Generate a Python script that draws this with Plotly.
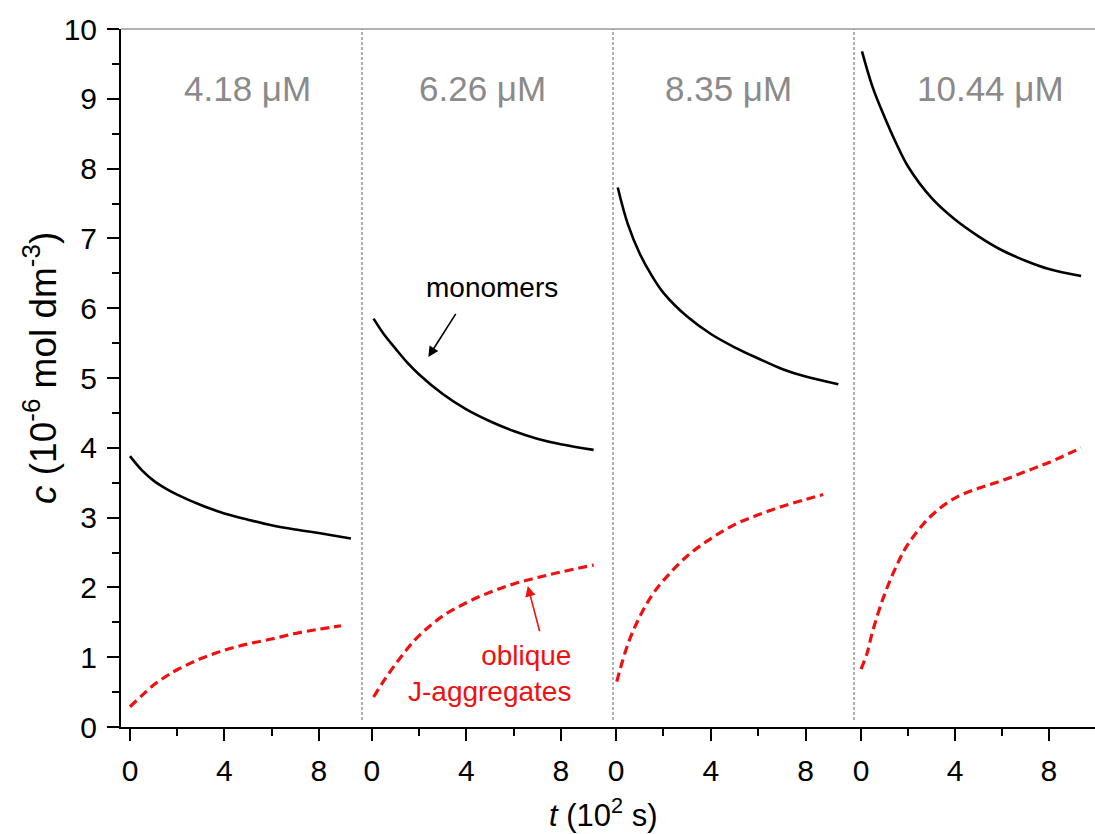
import plotly.graph_objects as go

# ---- data (t in 10^2 s, c in 10^-6 mol dm^-3) ----
panel_labels = ["4.18 μM", "6.26 μM", "8.35 μM", "10.44 μM"]

t_mono_1 = [0.0, 0.5, 1.0, 1.5, 2.0, 3.0, 4.0, 5.0, 6.0, 7.0, 8.0, 9.36]
c_mono_1 = [3.88, 3.68, 3.53, 3.42, 3.33, 3.18, 3.06, 2.97, 2.89, 2.83, 2.78, 2.70]
t_jagg_1 = [0.0, 0.5, 1.0, 1.5, 2.0, 3.0, 4.0, 5.0, 6.0, 7.0, 8.0, 8.94]
c_jagg_1 = [0.29, 0.45, 0.60, 0.72, 0.82, 0.98, 1.10, 1.19, 1.26, 1.34, 1.40, 1.45]

t_mono_2 = [0.07, 0.5, 1.0, 1.5, 2.0, 3.0, 4.0, 5.0, 6.0, 7.0, 8.0, 9.39]
c_mono_2 = [5.85, 5.63, 5.42, 5.22, 5.05, 4.77, 4.55, 4.38, 4.24, 4.13, 4.05, 3.97]
t_jagg_2 = [0.07, 0.5, 1.0, 1.5, 2.0, 3.0, 4.0, 5.0, 6.0, 7.0, 8.0, 9.39]
c_jagg_2 = [0.43, 0.66, 0.90, 1.12, 1.31, 1.59, 1.78, 1.93, 2.05, 2.14, 2.22, 2.32]

t_mono_3 = [0.07, 0.5, 1.0, 1.5, 2.0, 3.0, 4.0, 5.0, 6.0, 7.0, 8.0, 9.38]
c_mono_3 = [7.73, 7.20, 6.78, 6.47, 6.22, 5.88, 5.63, 5.44, 5.28, 5.13, 5.02, 4.91]
t_jagg_3 = [0.03, 0.5, 1.0, 1.5, 2.0, 3.0, 4.0, 5.0, 6.0, 7.0, 8.0, 8.74]
c_jagg_3 = [0.65, 1.19, 1.58, 1.88, 2.10, 2.45, 2.70, 2.90, 3.04, 3.16, 3.26, 3.33]

t_mono_4 = [0.04, 0.5, 1.0, 1.5, 2.0, 3.0, 4.0, 5.0, 6.0, 7.0, 8.0, 9.37]
c_mono_4 = [9.68, 9.16, 8.74, 8.36, 8.03, 7.58, 7.27, 7.03, 6.83, 6.68, 6.56, 6.46]
t_jagg_4 = [0.0, 0.25, 0.5, 1.0, 1.5, 2.0, 3.0, 4.0, 5.0, 6.0, 7.0, 8.0, 9.37]
c_jagg_4 = [0.83, 1.05, 1.38, 1.90, 2.30, 2.62, 3.03, 3.28, 3.42, 3.53, 3.66, 3.79, 4.0]

x_ticks = [0, 4, 8]
x_minor_ticks = [2, 6]
y_ticks = list(range(0, 11))

mono = [(t_mono_1, c_mono_1), (t_mono_2, c_mono_2), (t_mono_3, c_mono_3), (t_mono_4, c_mono_4)]
jagg = [(t_jagg_1, c_jagg_1), (t_jagg_2, c_jagg_2), (t_jagg_3, c_jagg_3), (t_jagg_4, c_jagg_4)]

FONT = "Liberation Sans, Arial, sans-serif"
W, H = 1095, 834
ML, MR, MT, MB = 121, 0, 29, 107
PW = W - ML - MR
PH = H - MT - MB
px = lambda p: (p - ML) / PW

dividers = [362, 613, 854]
edges = [ML] + dividers + [W - MR]
domains = [[px(edges[i]), px(edges[i + 1])] for i in range(4)]
x_ranges = [[-0.38, 9.83], [-0.42, 10.21], [-0.13, 10.04], [-0.30, 9.96]]

RED = "#f01010"

fig = go.Figure()
for i in range(4):
    xa = "x" if i == 0 else f"x{i+1}"
    fig.add_trace(go.Scatter(x=mono[i][0], y=mono[i][1], xaxis=xa, yaxis="y",
                             mode="lines", line=dict(color="black", width=2.6, shape="spline"),
                             showlegend=False))
    fig.add_trace(go.Scatter(x=jagg[i][0], y=jagg[i][1], xaxis=xa, yaxis="y",
                             mode="lines", line=dict(color=RED, width=3.2, dash="9px,5px", shape="spline"),
                             showlegend=False))

layout = dict(
    width=W, height=H,
    margin=dict(l=ML, r=MR, t=MT, b=MB),
    paper_bgcolor="white", plot_bgcolor="white",
    font=dict(family=FONT, size=30, color="black"),
    yaxis=dict(range=[0, 10], tickvals=y_ticks, showgrid=False, zeroline=False,
               showline=True, linecolor="black", linewidth=2, ticks="outside", ticklen=12,
               tickwidth=2, tickcolor="black", anchor="x", ticklabelstandoff=4,
               tickfont=dict(family=FONT, size=30),
               minor=dict(dtick=0.5, ticks="outside", ticklen=7, tickwidth=2, tickcolor="black")),
)
for i in range(4):
    key = "xaxis" if i == 0 else f"xaxis{i+1}"
    layout[key] = dict(domain=domains[i], range=x_ranges[i], tickvals=x_ticks,
                       showgrid=False, zeroline=False, showline=True, linecolor="black",
                       linewidth=2, ticks="outside", ticklen=12, tickwidth=2, tickcolor="black",
                       anchor="y", ticklabelstandoff=4, tickfont=dict(family=FONT, size=30),
                       minor=dict(tickvals=x_minor_ticks, ticks="outside", ticklen=7,
                                  tickwidth=2, tickcolor="black"))
fig.update_layout(**layout)

shapes = [dict(type="line", xref="paper", yref="paper", x0=0, x1=1, y0=1, y1=1,
               line=dict(color="#9a9a9a", width=1.5))]
for d in dividers:
    shapes.append(dict(type="line", xref="paper", yref="y", x0=px(d), x1=px(d), y0=0.1, y1=10,
                       line=dict(color="#888888", width=1.3, dash="3px,2px")))
fig.update_layout(shapes=shapes)

label_x = [4.98, 4.7, 4.73, 5.49]
anns = []
for i in range(4):
    xr = "x" if i == 0 else f"x{i+1}"
    anns.append(dict(x=label_x[i], y=9.15, xref=xr, yref="y", text=panel_labels[i],
                     showarrow=False, font=dict(family=FONT, size=35, color="#8a8a8a"),
                     xanchor="center", yanchor="middle"))

anns.append(dict(x=5.08, y=6.29, xref="x2", yref="y", text="monomers", showarrow=False,
                 font=dict(family=FONT, size=28, color="black")))
anns.append(dict(x=2.39, y=5.30, ax=3.59, ay=5.94, xref="x2", yref="y", axref="x2", ayref="y",
                 text="", showarrow=True, arrowhead=2, arrowsize=1.3, arrowwidth=1.6,
                 arrowcolor="black"))
anns.append(dict(x=8.52, y=0.76, xref="x2", yref="y", text="oblique<br>J-aggregates",
                 showarrow=False, xanchor="right", yanchor="middle", align="right",
                 font=dict(family=FONT, size=28, color=RED)))
anns.append(dict(x=6.6, y=2.02, ax=7.12, ay=1.35, xref="x2", yref="y", axref="x2", ayref="y",
                 text="", showarrow=True, arrowhead=2, arrowsize=1.3, arrowwidth=1.6,
                 arrowcolor=RED))

anns.append(dict(x=px(603), y=-(813 - 727) / PH, xref="paper", yref="paper",
                 text="<i>t</i> (10<sup>2</sup> s)", showarrow=False,
                 font=dict(family=FONT, size=31), xanchor="center", yanchor="middle"))
anns.append(dict(x=px(40), y=(727 - 368) / PH, xref="paper", yref="paper",
                 text="<i>c</i> (10<sup>-6</sup> mol dm<sup>-3</sup>)", showarrow=False,
                 textangle=-90, font=dict(family=FONT, size=37), xanchor="center", yanchor="middle"))
fig.update_layout(annotations=anns)

fig.write_html("out.html", config={"displayModeBar": False},
               post_script="document.body.style.margin='0';document.body.style.overflow='hidden';")
